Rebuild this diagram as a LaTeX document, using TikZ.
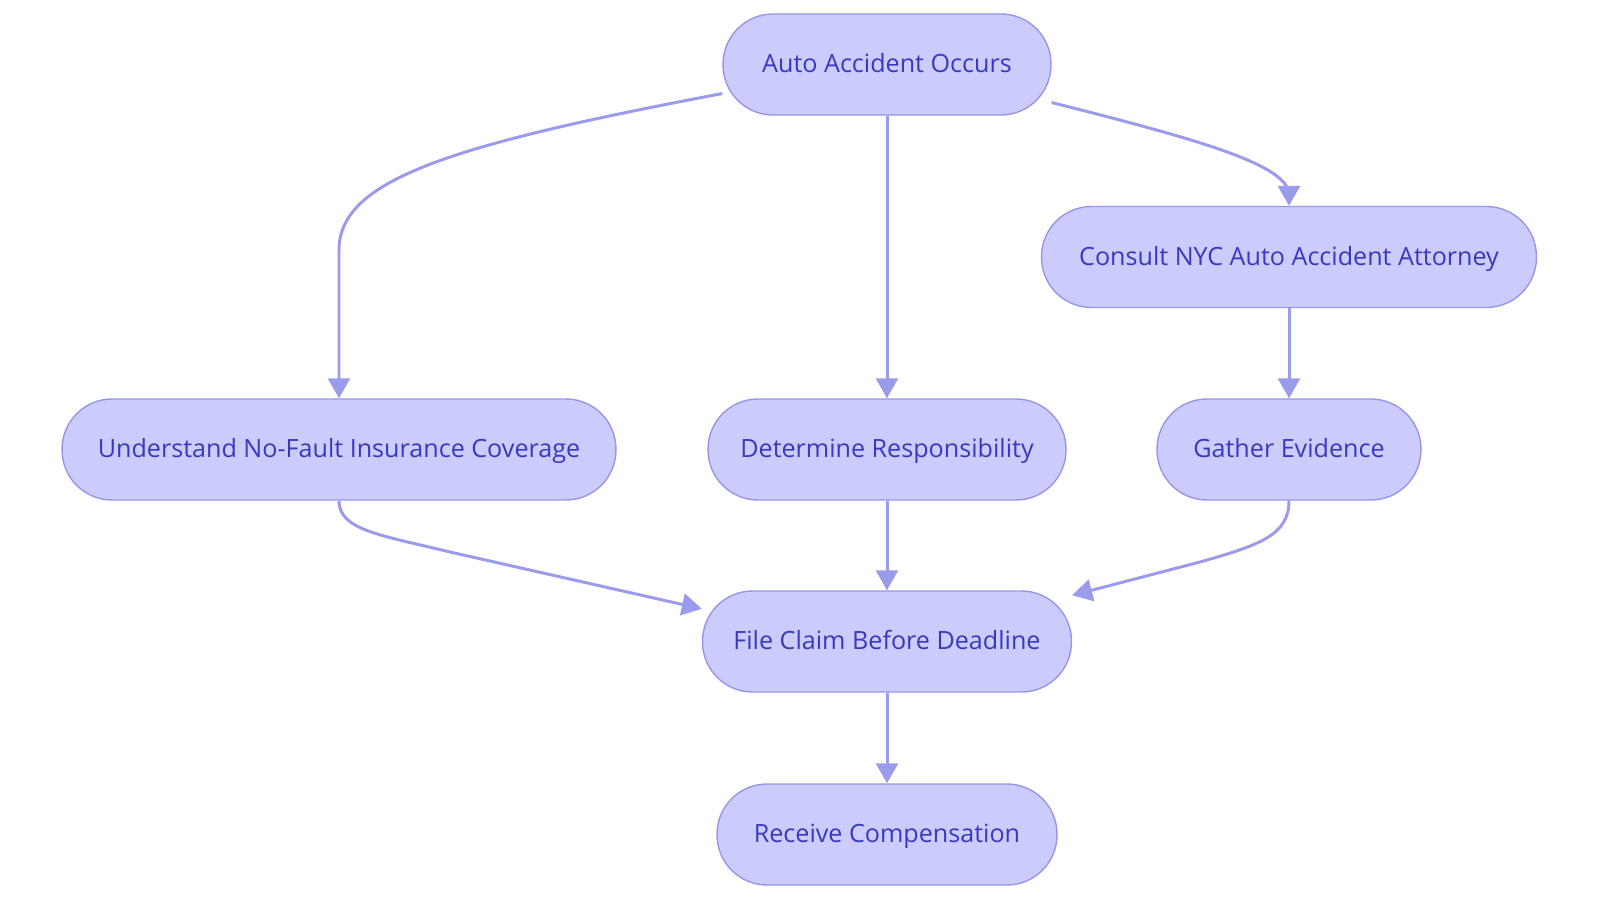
\documentclass[tikz,border=0pt]{standalone}
\usepackage{fontspec}
\setsansfont{Open Sans}
\usetikzlibrary{arrows.meta}
\definecolor{boxfill}{RGB}{204,204,252}
\definecolor{boxline}{RGB}{150,150,232}
\definecolor{edgecol}{RGB}{155,155,236}
\definecolor{txtcol}{RGB}{56,56,192}

\begin{document}
\begin{tikzpicture}[x=0.02cm,y=-0.02cm,
  box/.style={draw=boxline,line width=0.8pt,fill=boxfill,rounded corners=1cm,
    minimum height=2.02cm,inner sep=0pt,text height=12.5pt,text depth=3pt,
    text=txtcol,font=\sffamily\fontsize{14.3}{17}\selectfont},
  arr/.style={draw=edgecol,line width=1.7pt,-{Triangle[length=0.4cm,width=0.44cm]}}]
\useasboundingbox (0,0) rectangle (1600,902);
% rows
\def\ra{64.5}
\def\rb{257}
\def\rc{449.5}
\def\rd{641.5}
\def\re{834.5}
\node[box,minimum width=6.56cm] (occurs) at (887,\ra) {Auto Accident Occurs};
\node[box,minimum width=9.9cm] (attorney) at (1289,\rb) {Consult NYC Auto Accident Attorney};
\node[box,minimum width=11.08cm] (nofault) at (339,\rc) {Understand No-Fault Insurance Coverage};
\node[box,minimum width=7.16cm] (resp) at (887,\rc) {Determine Responsibility};
\node[box,minimum width=5.28cm] (evidence) at (1289,\rc) {Gather Evidence};
\node[box,minimum width=7.38cm] (claim) at (887,\rd) {File Claim Before Deadline};
\node[box,minimum width=6.8cm] (comp) at (887,\re) {Receive Compensation};
% connectors
\draw[arr] (occurs.190) .. controls (450,145) and (339,180) .. (339,250) -- (nofault.north);
\draw[arr] (occurs.south) -- (resp.north);
\draw[arr] (occurs.-13.5) .. controls (1200,140) and (1289,165) .. (1289,195) -- (attorney.north);
\draw[arr] (attorney.south) -- (evidence.north);
\draw[arr] (nofault.south) .. controls (339,530) and (380,535) .. (450,552) -- (claim.170);
\draw[arr] (resp.south) -- (claim.north);
\draw[arr] (evidence.south) .. controls (1289,535) and (1260,545) .. (1200,562) -- (claim.14);
\draw[arr] (claim.south) -- (comp.north);
\end{tikzpicture}
\end{document}
